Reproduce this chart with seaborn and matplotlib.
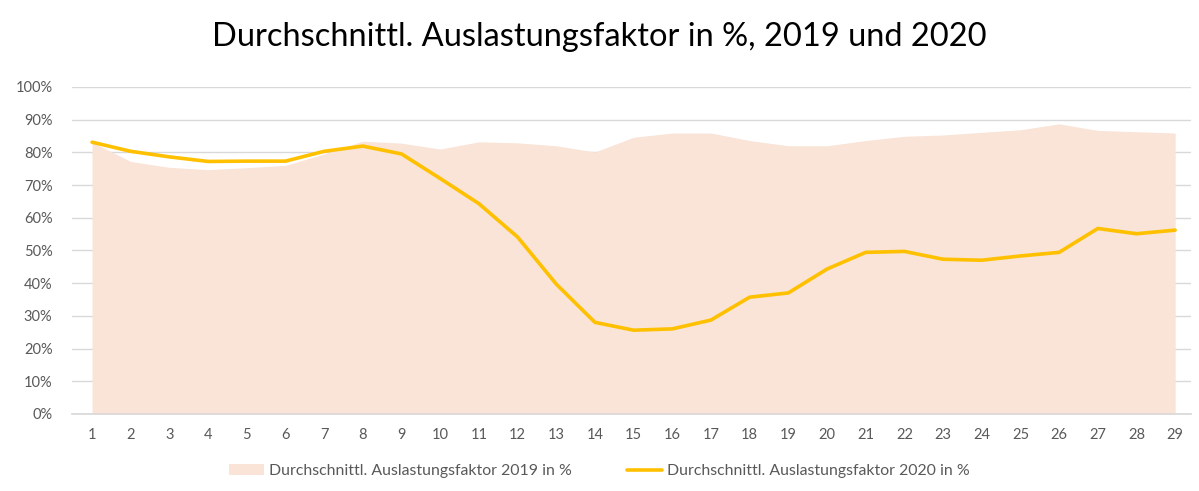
import matplotlib
matplotlib.use("Agg")
import matplotlib.pyplot as plt
from matplotlib.patches import Patch
from matplotlib.lines import Line2D
from matplotlib.ticker import PercentFormatter
import pandas as pd
import seaborn as sns

sns.set_theme(style="white")
plt.rcParams['font.family'] = ['Lato', 'DejaVu Sans']

# Kalenderwochen und Auslastungsfaktor (in %)
weeks = list(range(1, 30))
load_2019 = [83.1, 77.2, 75.4, 74.7, 75.3, 76.0, 79.5, 83.4, 82.8, 81.0,
             83.2, 82.9, 82.0, 80.1, 84.6, 85.9, 85.9, 83.6, 82.0, 82.0,
             83.6, 84.9, 85.3, 86.1, 86.9, 88.7, 86.7, 86.3, 85.9]
load_2020 = [83.1, 80.3, 78.6, 77.2, 77.3, 77.3, 80.3, 81.9, 79.5, 72.0,
             64.3, 54.1, 39.7, 28.0, 25.6, 26.0, 28.7, 35.7, 37.0, 44.3,
             49.4, 49.7, 47.3, 47.0, 48.3, 49.4, 56.7, 55.1, 56.2]
label_2019 = "Durchschnittl. Auslastungsfaktor 2019 in %"
label_2020 = "Durchschnittl. Auslastungsfaktor 2020 in %"

df = pd.DataFrame({"week": weeks, "y2019": load_2019, "y2020": load_2020})

area_color = "#F9E4D7"
line_color = "#FFC000"
text_color = "#595959"

fig = plt.figure(figsize=(11.99, 4.91), dpi=100)
ax = fig.add_axes([0.060, 0.157, 0.933, 0.666])

ax.fill_between(df["week"], 0, df["y2019"], color=area_color, linewidth=0, zorder=2)
sns.lineplot(data=df, x="week", y="y2020", color=line_color, linewidth=2.6, ax=ax, zorder=3)

ax.set_ylim(0, 100)
ax.set_xlim(0.48, 29.4)
ax.set_yticks(range(0, 101, 10))
ax.yaxis.set_major_formatter(PercentFormatter(decimals=0))
ax.set_xticks(weeks)
ax.grid(axis="y", color="#D9D9D9", linewidth=1, zorder=0)
ax.set_axisbelow(True)
for s in ["top", "right", "left"]:
    ax.spines[s].set_visible(False)
ax.spines["bottom"].set_color("#D9D9D9")
ax.tick_params(axis="both", length=0, labelsize=10.5, colors=text_color)
ax.tick_params(axis="x", pad=10)
ax.tick_params(axis="y", pad=14)
ax.set_xlabel("")
ax.set_ylabel("")

fig.suptitle("Durchschnittl. Auslastungsfaktor in %, 2019 und 2020",
             y=0.955, fontsize=23.5, color="#000000")

handles = [Patch(facecolor=area_color, edgecolor="none", label=label_2019),
           Line2D([0], [0], color=line_color, linewidth=2.6, label=label_2020)]
fig.legend(handles=handles, loc="center", bbox_to_anchor=(0.5, 0.04), ncol=2,
           frameon=False, fontsize=11.4, labelcolor=text_color,
           handlelength=2.2, columnspacing=3.5, handletextpad=0.3)

fig.savefig("out.png", dpi=100)
